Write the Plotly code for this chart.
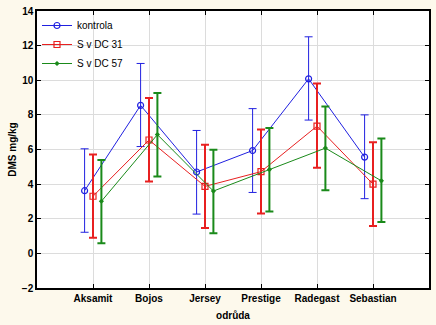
import plotly.graph_objects as go

# Cultivars and DMS content (mean with lower/upper confidence bounds), mg/kg
cultivars = ["Aksamit", "Bojos", "Jersey", "Prestige", "Radegast", "Sebastian"]

kontrola_mean = [3.62, 8.55, 4.70, 5.94, 10.08, 5.56]
kontrola_low = [1.22, 6.17, 2.27, 3.52, 7.70, 3.16]
kontrola_high = [6.04, 10.97, 7.10, 8.36, 12.51, 8.00]

dc31_mean = [3.30, 6.55, 3.87, 4.72, 7.35, 4.00]
dc31_low = [0.90, 4.15, 1.47, 2.30, 4.95, 1.58]
dc31_high = [5.71, 8.97, 6.27, 7.16, 9.81, 6.42]

dc57_mean = [3.01, 6.86, 3.60, 4.84, 6.08, 4.19]
dc57_low = [0.59, 4.44, 1.16, 2.42, 3.64, 1.81]
dc57_high = [5.39, 9.27, 5.98, 7.24, 8.49, 6.63]

y_ticks = [-2, 0, 2, 4, 6, 8, 10, 12, 14]

series = [
    ("kontrola", kontrola_mean, kontrola_low, kontrola_high, "#2020e0", -0.15,
     dict(symbol="circle-open", size=6, line=dict(width=1.2)), 1.0),
    ("S v DC 31", dc31_mean, dc31_low, dc31_high, "#e82020", 0.0,
     dict(symbol="square-open", size=6, line=dict(width=1.2)), 2.0),
    ("S v DC 57", dc57_mean, dc57_low, dc57_high, "#1a8a1a", 0.15,
     dict(symbol="diamond", size=4), 2.0),
]

fig = go.Figure()
for name, mean, low, high, color, offset, marker, ebw in series:
    xs = [i + offset for i in range(len(cultivars))]
    fig.add_trace(go.Scatter(
        x=xs, y=mean, name=name, mode="lines+markers",
        line=dict(color=color, width=1),
        marker=dict(color=color, **marker),
        error_y=dict(
            type="data", symmetric=False,
            array=[h - m for h, m in zip(high, mean)],
            arrayminus=[m - l for m, l in zip(mean, low)],
            color=color, thickness=ebw, width=4,
        ),
    ))

fig.update_layout(
    width=436, height=325,
    paper_bgcolor="#fdf9ec", plot_bgcolor="#ffffff",
    margin=dict(l=37, r=5, t=9, b=36),
    font=dict(family="Liberation Sans, Arial, sans-serif", size=10, color="#000000"),
    showlegend=True,
    legend=dict(
        x=0.0, y=1.0, xanchor="left", yanchor="top",
        bgcolor="rgba(255,255,255,0)", borderwidth=0,
        font=dict(size=10), tracegroupgap=0, itemwidth=30,
    ),
    xaxis=dict(
        range=[-1, 6], tickmode="array",
        tickvals=list(range(len(cultivars))), ticktext=cultivars,
        tickfont=dict(size=10, family="Liberation Sans, Arial, sans-serif", weight="bold"),
        showgrid=True, gridcolor="#dcdcdc", gridwidth=1, zeroline=False,
        showline=True, linecolor="#000000", linewidth=1.5, mirror="ticks",
        ticks="inside", ticklen=4, tickcolor="#000000",
        title=dict(text="odrůda", font=dict(size=10, weight="bold"), standoff=9),
    ),
    yaxis=dict(
        range=[-2, 14], tickmode="array", tickvals=y_ticks,
        tickfont=dict(size=10, family="Liberation Sans, Arial, sans-serif", weight="bold"),
        showgrid=True, gridcolor="#dcdcdc", gridwidth=1, zeroline=False,
        showline=True, linecolor="#000000", linewidth=1.5, mirror="ticks",
        ticks="inside", ticklen=4, tickcolor="#000000",
        title=dict(text="DMS mg/kg", font=dict(size=10, weight="bold"), standoff=3),
    ),
)

fig.write_html("out.html")
